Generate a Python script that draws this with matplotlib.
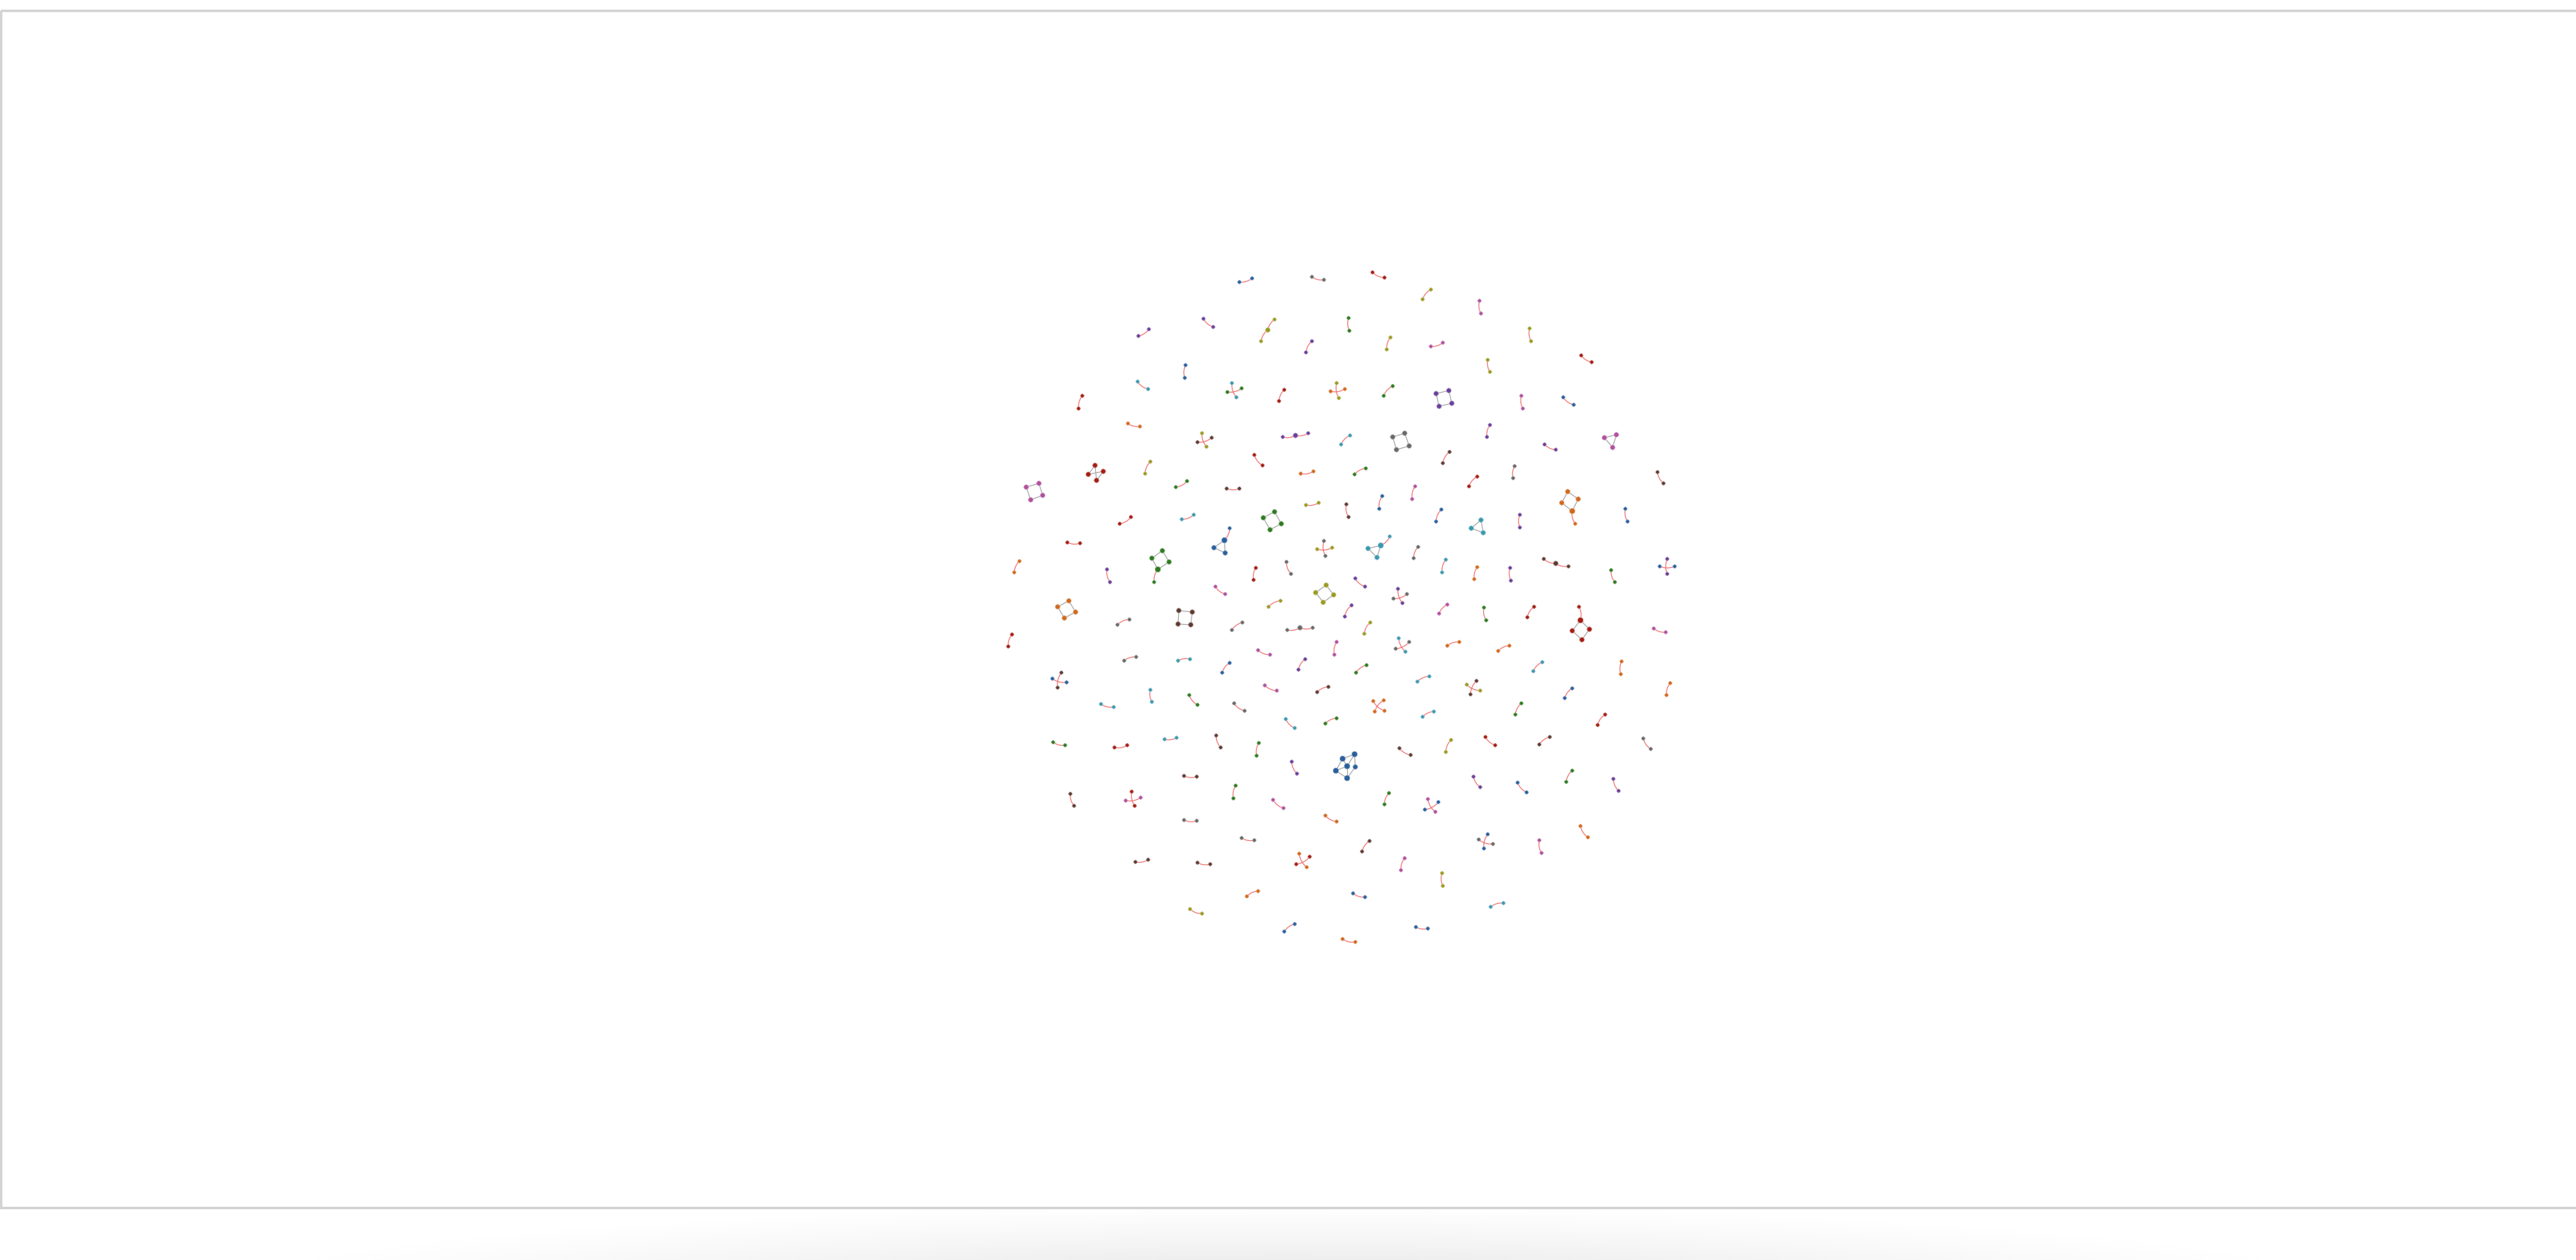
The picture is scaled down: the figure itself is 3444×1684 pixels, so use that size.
import numpy as np
import matplotlib
matplotlib.use("Agg")
import matplotlib.pyplot as plt
from matplotlib.patches import Rectangle
from matplotlib.colors import to_rgb

# ---------------- data (layout coordinates) ----------------
PALETTE = {
    "blue": "#2b5f9c", "orange": "#d0691f", "green": "#2e7a20", "red": "#a31d14",
    "purple": "#6b3f98", "brown": "#5e3a32", "pink": "#b0509f", "gray": "#686868",
    "olive": "#9a9a22", "cyan": "#3b98b0",
}

# two-node components: x1, y1, x2, y2, group
PAIRS = [
    (1657, 377, 1674, 372, "blue"), (1754, 370, 1770, 374, "gray"),
    (1522, 449, 1536, 440, "purple"), (1609, 426, 1622, 437, "purple"),
    (1754, 456, 1746, 471, "purple"), (1585, 488, 1584, 505, "blue"),
    (1521, 510, 1535, 520, "cyan"), (1647, 512, 1653, 531, "cyan"),
    (1641, 524, 1660, 519, "green"), (1717, 521, 1710, 536, "red"),
    (1787, 512, 1790, 532, "olive"), (1779, 523, 1798, 520, "orange"),
    (1447, 529, 1442, 546, "red"), (1508, 566, 1524, 570, "orange"),
    (1607, 579, 1613, 597, "olive"), (1601, 591, 1620, 585, "brown"),
    (1677, 608, 1688, 622, "red"), (1739, 633, 1756, 630, "orange"),
    (1538, 617, 1531, 633, "olive"), (1572, 651, 1587, 643, "green"),
    (1640, 653, 1657, 653, "brown"), (1746, 675, 1763, 672, "olive"),
    (1497, 700, 1512, 691, "red"), (1580, 694, 1596, 688, "cyan"),
    (1427, 725, 1444, 726, "red"), (1770, 723, 1772, 743, "gray"),
    (1761, 734, 1781, 732, "olive"), (1363, 750, 1356, 765, "orange"),
    (1480, 761, 1484, 778, "purple"), (1679, 759, 1676, 775, "red"),
    (1720, 751, 1726, 767, "gray"), (1625, 784, 1638, 794, "pink"),
    (1712, 803, 1696, 811, "olive"),
    (1835, 364, 1851, 371, "red"), (1913, 387, 1902, 400, "olive"),
    (1978, 402, 1980, 419, "pink"), (1803, 425, 1804, 442, "green"),
    (1859, 451, 1854, 467, "olive"), (1913, 463, 1929, 458, "pink"),
    (2045, 439, 2047, 456, "olive"), (1989, 481, 1992, 497, "olive"),
    (2114, 475, 2128, 484, "red"), (1862, 516, 1850, 529, "green"),
    (2034, 529, 2036, 546, "pink"), (2090, 531, 2104, 541, "blue"),
    (1805, 582, 1793, 594, "cyan"), (1992, 568, 1988, 584, "purple"),
    (2065, 594, 2080, 601, "purple"), (1938, 604, 1929, 619, "brown"),
    (1826, 626, 1811, 634, "green"), (1975, 637, 1964, 650, "red"),
    (2025, 623, 2023, 639, "gray"), (2216, 631, 2224, 646, "brown"),
    (1892, 650, 1888, 667, "pink"), (1848, 663, 1844, 680, "blue"),
    (1800, 674, 1803, 691, "brown"), (1927, 681, 1920, 697, "blue"),
    (2032, 688, 2032, 705, "purple"), (2173, 680, 2176, 697, "blue"),
    (1896, 731, 1890, 746, "gray"), (1933, 748, 1928, 765, "cyan"),
    (1975, 758, 1971, 774, "orange"), (2019, 759, 2020, 776, "purple"),
    (2154, 762, 2159, 778, "green"), (2229, 747, 2229, 767, "purple"),
    (2219, 757, 2239, 757, "blue"), (1812, 773, 1825, 784, "purple"),
    (1869, 787, 1875, 806, "purple"), (1863, 800, 1881, 794, "gray"),
    (1510, 828, 1494, 835, "gray"), (1661, 832, 1647, 842, "gray"),
    (1353, 848, 1348, 864, "red"), (1519, 878, 1503, 883, "gray"),
    (1591, 881, 1575, 883, "cyan"), (1644, 886, 1634, 899, "blue"),
    (1682, 869, 1698, 875, "pink"), (1745, 881, 1736, 895, "purple"),
    (1787, 858, 1784, 875, "pink"), (1419, 899, 1414, 919, "brown"),
    (1407, 907, 1426, 912, "blue"), (1538, 922, 1540, 938, "cyan"),
    (1472, 941, 1489, 945, "cyan"), (1590, 929, 1601, 942, "green"),
    (1691, 916, 1707, 923, "pink"), (1776, 918, 1761, 925, "brown"),
    (1650, 940, 1664, 950, "gray"), (1719, 961, 1731, 973, "cyan"),
    (1787, 960, 1772, 967, "green"), (1408, 992, 1424, 996, "green"),
    (1490, 999, 1507, 996, "red"), (1557, 988, 1573, 986, "cyan"),
    (1626, 983, 1632, 999, "brown"), (1683, 993, 1680, 1010, "green"),
    (1727, 1018, 1734, 1034, "purple"), (1583, 1037, 1600, 1038, "brown"),
    (1431, 1061, 1436, 1077, "brown"), (1513, 1058, 1517, 1077, "red"),
    (1505, 1070, 1525, 1066, "pink"), (1652, 1050, 1649, 1067, "green"),
    (1702, 1069, 1716, 1080, "pink"), (1772, 1090, 1787, 1098, "orange"),
    (1583, 1096, 1600, 1097, "gray"), (1660, 1120, 1677, 1123, "gray"),
    (1518, 1152, 1535, 1149, "brown"), (1601, 1153, 1618, 1155, "brown"),
    (1737, 1141, 1747, 1159, "orange"), (1733, 1155, 1751, 1145, "red"),
    (1682, 1191, 1667, 1198, "orange"), (1591, 1215, 1607, 1221, "olive"),
    (1731, 1235, 1717, 1245, "blue"),
    (1807, 809, 1798, 824, "purple"), (1935, 808, 1924, 820, "pink"),
    (1984, 812, 1987, 829, "green"), (2051, 811, 2042, 825, "red"),
    (2211, 840, 2227, 845, "pink"), (1832, 832, 1824, 847, "olive"),
    (1870, 853, 1879, 871, "cyan"), (1866, 867, 1884, 858, "gray"),
    (1951, 858, 1935, 863, "orange"), (2018, 863, 2003, 870, "orange"),
    (2062, 885, 2050, 897, "cyan"), (2168, 884, 2167, 901, "orange"),
    (1827, 889, 1813, 899, "green"), (1911, 904, 1895, 911, "cyan"),
    (1974, 910, 1966, 928, "brown"), (1961, 915, 1979, 923, "olive"),
    (2102, 920, 2092, 933, "blue"), (2233, 913, 2228, 929, "orange"),
    (1836, 937, 1851, 950, "orange"), (1850, 936, 1838, 951, "orange"),
    (1917, 951, 1902, 958, "cyan"), (2034, 940, 2026, 955, "green"),
    (2146, 955, 2136, 969, "red"), (1986, 985, 1999, 996, "red"),
    (2072, 985, 2058, 995, "brown"), (2197, 987, 2207, 1001, "gray"),
    (1871, 1000, 1886, 1009, "brown"), (1940, 989, 1933, 1005, "olive"),
    (1970, 1038, 1979, 1052, "purple"), (2029, 1046, 2041, 1059, "blue"),
    (2102, 1030, 2094, 1045, "green"), (2157, 1041, 2164, 1057, "purple"),
    (1857, 1060, 1851, 1075, "green"), (1909, 1068, 1919, 1085, "pink"),
    (1905, 1082, 1923, 1072, "blue"), (2113, 1104, 2123, 1119, "orange"),
    (1831, 1124, 1821, 1138, "brown"), (1989, 1115, 1984, 1134, "blue"),
    (1977, 1122, 1996, 1128, "gray"), (2058, 1123, 2061, 1140, "pink"),
    (1878, 1147, 1873, 1163, "pink"), (1928, 1167, 1929, 1184, "olive"),
    (1809, 1194, 1825, 1199, "blue"), (2010, 1207, 1993, 1212, "cyan"),
    (1893, 1239, 1909, 1241, "blue"), (1795, 1255, 1812, 1259, "orange"),
]

# three-node chains: x1, y1, x2, y2, x3, y3, group
CHAINS = [
    (1704, 427, 1695, 441, 1686, 456, "olive"),
    (1715, 584, 1732, 582, 1749, 579, "purple"),
    (1721, 842, 1738, 839, 1755, 839, "gray"),
    (2064, 747, 2080, 753, 2097, 757, "brown"),
]

# larger components: node positions, edges inside (grey), tail edges (red)
CLUSTER_GROUP = ["red", "pink", "green", "blue", "green", "olive", "orange",
                 "brown", "purple", "gray", "pink", "orange", "cyan", "cyan",
                 "red", "blue"]
CLUSTER_NODES = [
    [(1464, 622), (1475, 630), (1466, 642), (1455, 634)],
    [(1389, 646), (1394, 662), (1378, 668), (1372, 651)],
    [(1704, 684), (1713, 700), (1698, 708), (1689, 692)],
    [(1637, 722), (1623, 732), (1638, 739), (1644, 706)],
    [(1554, 736), (1563, 751), (1548, 761), (1540, 746), (1543, 778)],
    [(1773, 782), (1783, 795), (1769, 805), (1759, 792)],
    [(1429, 803), (1438, 818), (1423, 826), (1414, 811)],
    [(1576, 816), (1594, 818), (1592, 835), (1575, 834)],
    [(1920, 526), (1937, 522), (1941, 539), (1924, 543)],
    [(1862, 584), (1878, 579), (1884, 596), (1867, 601)],
    [(2145, 585), (2161, 581), (2156, 598)],
    [(2096, 657), (2110, 667), (2102, 683), (2088, 672), (2106, 700)],
    [(1980, 695), (1983, 712), (1967, 706)],
    [(1846, 729), (1829, 733), (1841, 745), (1858, 717)],
    [(2113, 829), (2125, 841), (2115, 855), (2102, 843), (2111, 811)],
    [(1811, 1008), (1795, 1014), (1801, 1024), (1812, 1025), (1786, 1030), (1801, 1040)],
]
RING4 = [(0, 1), (1, 2), (2, 3), (3, 0)]
TRI = [(0, 1), (1, 2), (2, 0)]
CLUSTER_EDGES = [
    [(3, 0), (0, 2), (3, 1), (1, 2)], RING4, RING4, TRI, RING4, RING4, RING4,
    RING4, RING4, RING4, TRI, RING4, TRI, TRI, RING4,
    [(0, 1), (0, 2), (0, 3), (1, 2), (1, 4), (4, 2), (4, 5), (2, 5), (3, 5)],
]
CLUSTER_TAILS = [[], [], [], [(0, 3)], [(2, 4)], [], [], [], [], [], [],
                 [(2, 4)], [], [(0, 3)], [(0, 4)], []]

# ---------------- assemble graph ----------------
node_x, node_y, node_g = [], [], []
red_edges, grey_edges = [], []


def add_node(x, y, g):
    node_x.append(x); node_y.append(y); node_g.append(g)
    return len(node_x) - 1


for x1, y1, x2, y2, g in PAIRS:
    a = add_node(x1, y1, g); b = add_node(x2, y2, g)
    red_edges.append((a, b))
for x1, y1, x2, y2, x3, y3, g in CHAINS:
    a = add_node(x1, y1, g); b = add_node(x2, y2, g); c = add_node(x3, y3, g)
    red_edges += [(a, b), (b, c)]
for g, nodes, edges, tails in zip(CLUSTER_GROUP, CLUSTER_NODES, CLUSTER_EDGES, CLUSTER_TAILS):
    ids = [add_node(x, y, g) for x, y in nodes]
    grey_edges += [(ids[i], ids[j]) for i, j in edges]
    red_edges += [(ids[i], ids[j]) for i, j in tails]

node_x = np.array(node_x, float); node_y = np.array(node_y, float)
deg = np.zeros(len(node_x))
for a, b in red_edges + grey_edges:
    deg[a] += 1; deg[b] += 1

# ---------------- draw ----------------
W, H = 3444, 1684
fig = plt.figure(figsize=(W / 100, H / 100), dpi=100)
fig.patch.set_facecolor("white")
ax = fig.add_axes([0, 0, 1, 1])
ax.set_xlim(0, W)
ax.set_ylim(H, 0)
ax.axis("off")

# bottom shadow
ys = np.linspace(1618, H, 70)
xs = np.linspace(0, W, 600)
XX, YY = np.meshgrid(xs, ys)
d = np.sqrt(((XX - 1722) / 1500) ** 2 + ((YY - 1730) / 125) ** 2)
alpha = np.clip(1 - d, 0, 1) ** 1.2 * 0.12
img = np.zeros((len(ys), len(xs), 4))
img[..., 3] = alpha
ax.imshow(img, extent=[0, W, H, 1618], origin="upper", aspect="auto", zorder=0,
          interpolation="bilinear")

# frame
ax.add_patch(Rectangle((0.5, 14), W + 40, 1600, fill=False, edgecolor="#d3d3d3",
                       linewidth=2.4, zorder=1))


def arc(xa, ya, xb, yb, k=0.10, n=24):
    mx, my = (xa + xb) / 2, (ya + yb) / 2
    dx, dy = xb - xa, yb - ya
    cx, cy = mx - dy * k * 2, my + dx * k * 2
    t = np.linspace(0, 1, n)
    px = (1 - t) ** 2 * xa + 2 * (1 - t) * t * cx + t ** 2 * xb
    py = (1 - t) ** 2 * ya + 2 * (1 - t) * t * cy + t ** 2 * yb
    return px, py


for a, b in grey_edges:
    ax.plot([node_x[a], node_x[b]], [node_y[a], node_y[b]], color="#a8a8a8",
            lw=0.85, zorder=2, solid_capstyle="round")
for a, b in red_edges:
    px, py = arc(node_x[a], node_y[a], node_x[b], node_y[b])
    ax.plot(px, py, color="#f06464", lw=0.9, alpha=0.85, zorder=2,
            solid_capstyle="round")

size_px = np.select([deg <= 1, deg == 2, deg == 3], [4.6, 6.3, 7.4], 7.6)
sizes = (size_px * 0.72) ** 2
cols = [PALETTE[g] for g in node_g]
edge_cols = [tuple(0.55 * np.array(to_rgb(c)) + 0.45) for c in cols]
ax.scatter(node_x, node_y, s=sizes, c=cols, edgecolors=edge_cols,
           linewidths=0.5, zorder=3)

fig.savefig("out.png", dpi=100, facecolor="white")
